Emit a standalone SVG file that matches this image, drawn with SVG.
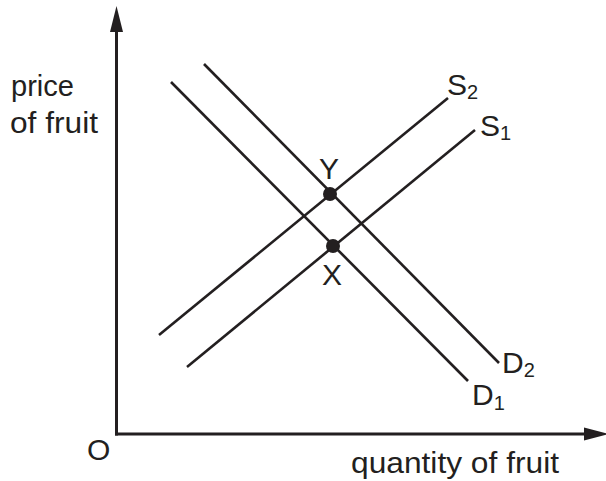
<svg xmlns="http://www.w3.org/2000/svg" width="606" height="481" viewBox="0 0 606 481">
<style>
.ln{stroke:#231f20;stroke-width:2.6;fill:none;stroke-linecap:butt}
.ax{stroke:#231f20;stroke-width:3;fill:none}
.t{font-family:"Liberation Sans",Arial,sans-serif;font-size:30px;fill:#231f20}
.s{font-size:20px}
.ah{fill:#231f20}
.dot{fill:#231f20}
</style>
<rect width="606" height="481" fill="#fff"/>
<g id="axes">
<line class="ax" x1="116.5" y1="435.5" x2="116.5" y2="28"/>
<polygon class="ah" points="116.5,6 110,32 123,32"/>
<line class="ax" x1="115" y1="434" x2="588" y2="434"/>
<polygon class="ah" points="609,434 584,427.5 584,440.5"/>
</g>
<g id="connectors">
<line id="D1" class="ln" x1="171" y1="82" x2="468" y2="381"/>
<line id="D2" class="ln" x1="204" y1="64" x2="499" y2="363"/>
<line id="S1" class="ln" x1="187" y1="367" x2="475" y2="130"/>
<line id="S2" class="ln" x1="159" y1="335" x2="448" y2="98"/>
</g>
<g id="Y"><circle class="dot" cx="330" cy="194" r="7"/><text class="t" x="319" y="179">Y</text></g>
<g id="X"><circle class="dot" cx="333" cy="246" r="7"/><text class="t" x="322" y="285">X</text></g>
<g id="labels">
<text class="t" x="11" y="96" textLength="63" lengthAdjust="spacingAndGlyphs">price</text>
<text class="t" x="10" y="133" textLength="88" lengthAdjust="spacingAndGlyphs">of fruit</text>
<text class="t" x="351" y="473" textLength="208" lengthAdjust="spacingAndGlyphs">quantity of fruit</text>
<text class="t" x="87" y="460">O</text>
<text class="t" x="447" y="95">S<tspan class="s" dy="4">2</tspan></text>
<text class="t" x="480" y="136">S<tspan class="s" dy="4">1</tspan></text>
<text class="t" x="502" y="373">D<tspan class="s" dy="4">2</tspan></text>
<text class="t" x="472" y="405">D<tspan class="s" dy="5">1</tspan></text>
</g>
</svg>
